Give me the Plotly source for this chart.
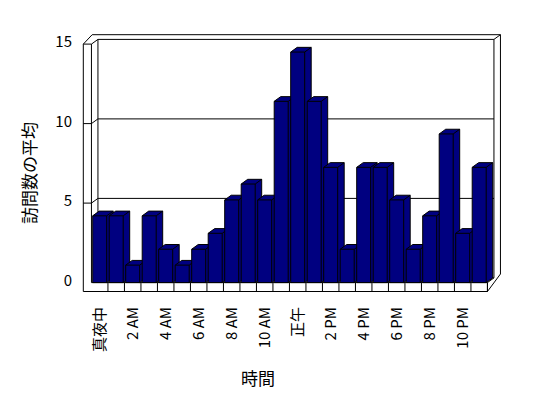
import plotly.graph_objects as go

# ---- data ----
hours = ["真夜中", "1 AM", "2 AM", "3 AM", "4 AM", "5 AM", "6 AM", "7 AM", "8 AM", "9 AM",
         "10 AM", "11 AM", "正午", "1 PM", "2 PM", "3 PM", "4 PM", "5 PM", "6 PM", "7 PM",
         "8 PM", "9 PM", "10 PM", "11 PM"]
visits = [4.2, 4.2, 1.1, 4.2, 2.1, 1.1, 2.1, 3.1, 5.2, 6.2, 5.2, 11.4,
          14.5, 11.4, 7.25, 2.1, 7.25, 7.25, 5.2, 2.1, 4.2, 9.35, 3.1, 7.25]
y_ticks = [0, 5, 10, 15]
x_tick_labels = ["真夜中", "2 AM", "4 AM", "6 AM", "8 AM", "10 AM",
                 "正午", "2 PM", "4 PM", "6 PM", "8 PM", "10 PM"]
x_title = "時間"
y_title = "訪問数の平均"

# ---- geometry / style ----
OFF = 8                       # page body margin of the html page
W, H = 548 - OFF, 398 - OFF   # figure size so the page fits the window
# page-pixel layout of the plot area
PL, PR, PT, PB = 80, 505, 30, 295
ML, MT = PL - OFF, PT - OFF
MR, MB = W - (PR - OFF), H - (PB - OFF)
PX0, PITCH = 99.7, 16.5      # page pixel of category 0, pixels per category
PY0, PERU = 282.6, 15.9      # page pixel of value 0, pixels per unit


def X(px):
    return (px - PX0) / PITCH


def Y(py):
    return (PY0 - py) / PERU


DX, DY = 6.5 / PITCH, 4.7 / PERU   # depth offset in data units
BW = 14 / PITCH
NAVY = "#000080"
FONT = "MS PGothic, Noto Sans CJK JP, sans-serif"

xr = [X(PL), X(PR)]
yr = [Y(PB), Y(PT)]

fig = go.Figure()

n = len(visits)
L_OUT, L_IN = X(83.3), -0.5
R_IN = n - 0.5
TOP = y_ticks[-1]
FLOOR_B = Y(291.5)

shapes = []


def line(pts, width=1):
    path = "M " + " L ".join(f"{a},{b}" for a, b in pts)
    shapes.append(dict(type="path", path=path, xref="x", yref="y",
                       line=dict(color="black", width=width), layer="below"))


# back wall
shapes.append(dict(type="path", xref="x", yref="y", layer="below",
                   path=f"M {L_IN+DX},{DY} L {L_IN+DX},{TOP+DY} L {R_IN+DX},{TOP+DY} L {R_IN+DX},{DY} Z",
                   fillcolor="white", line=dict(color="black", width=1)))
# back wall thickness (top and right)
line([(L_IN + DX - 0.35, TOP + 2 * DY), (R_IN + 2 * DX, TOP + 2 * DY),
      (R_IN + 2 * DX, 2 * DY - 0.05), (R_IN, FLOOR_B)])
line([(R_IN + DX, TOP + DY), (R_IN + 2 * DX, TOP + 2 * DY)])
line([(R_IN + DX, DY), (R_IN, 0)])
# left wall
line([(L_OUT, FLOOR_B), (L_OUT, TOP), (L_IN, TOP), (L_IN, 0)])
line([(L_OUT, TOP), (L_IN + DX - 0.35, TOP + 2 * DY)])
line([(L_IN, TOP), (L_IN + DX, TOP + DY)])
# floor front
line([(L_OUT, FLOOR_B), (R_IN, FLOOR_B), (R_IN, 0), (L_IN, 0)])
for k in range(n):
    line([(k + 0.5, 0), (k + 0.5, FLOOR_B)])
# gridlines
for t in y_ticks[1:-1]:
    line([(L_OUT, t), (L_IN, t), (L_IN + DX, t + DY), (R_IN + DX, t + DY)])

# bars drawn left to right as 3D prisms
for i, v in enumerate(visits):
    xl, xrr = i - BW / 2, i + BW / 2
    fig.add_trace(go.Scatter(
        x=[xl, xl, xl + DX, xrr + DX, xrr + DX, xrr, xl],
        y=[0, v, v + DY, v + DY, DY, 0, 0],
        mode="lines", fill="toself", fillcolor=NAVY,
        line=dict(color="black", width=1), hoverinfo="skip", showlegend=False))
    fig.add_trace(go.Scatter(
        x=[xl, xrr, xrr + DX, None, xrr, xrr],
        y=[v, v, v + DY, None, v, 0],
        mode="lines", line=dict(color="black", width=1),
        name=hours[i], hoverinfo="skip", showlegend=False))

fig.update_layout(
    width=W, height=H, margin=dict(l=ML, r=MR, t=MT, b=MB),
    paper_bgcolor="white", plot_bgcolor="white", shapes=shapes,
    font=dict(family=FONT, size=15, color="black"),
    xaxis=dict(range=xr, tickvals=list(range(0, n, 2)), ticktext=x_tick_labels,
               tickangle=-90, showgrid=False, zeroline=False, showline=False,
               ticks="", ticklabelstandoff=8, automargin=False, fixedrange=True),
    yaxis=dict(range=yr, tickvals=y_ticks, showgrid=False, zeroline=False,
               showline=False, ticks="", ticklabelstandoff=7, ticklabelshift=-2,
               automargin=False, fixedrange=True),
    annotations=[
        dict(text=x_title, xref="paper", yref="paper",
             x=(258 - PL) / (PR - PL), y=(PB - 377) / (PB - PT),
             showarrow=False, font=dict(size=17), xanchor="center", yanchor="middle"),
        dict(text=y_title, xref="paper", yref="paper", textangle=-90,
             x=(28 - PL) / (PR - PL), y=(PB - 173) / (PB - PT),
             showarrow=False, font=dict(size=17), xanchor="center", yanchor="middle"),
    ],
)

fig.write_html("out.html")
